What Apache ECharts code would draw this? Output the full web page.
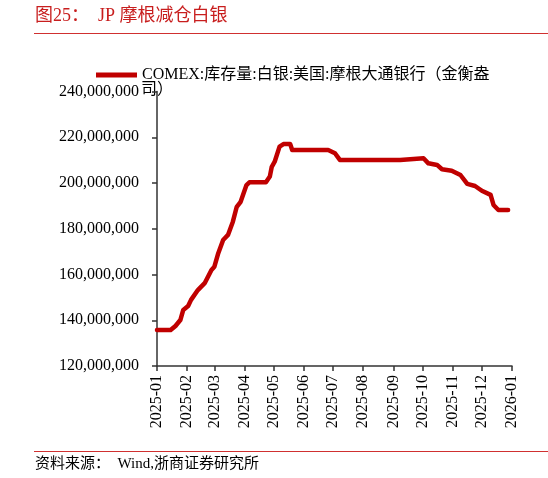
<!DOCTYPE html>
<html>
<head>
<meta charset="utf-8">
<script src="https://cdn.jsdelivr.net/npm/echarts@6/dist/echarts.min.js"></script>
<style>
html,body{margin:0;padding:0;background:#fff;}
#c{width:548px;height:478px;}
</style>
</head>
<body>
<div id="c"></div>
<script>
const titleText = '图25：  JP 摩根减仓白银';
const sourceText = '资料来源：  Wind,浙商证券研究所';
const seriesName = 'COMEX:库存量:白银:美国:摩根大通银行（金衡盎司）';
const legendLine1 = 'COMEX:库存量:白银:美国:摩根大通银行（金衡盎';
const legendLine2 = '司）';

const tickLabels = ['2025-01','2025-02','2025-03','2025-04','2025-05','2025-06','2025-07',
  '2025-08','2025-09','2025-10','2025-11','2025-12','2026-01'];

const dates = ['2025-01-01','2025-01-15','2025-01-20','2025-01-25','2025-01-28','2025-02-02','2025-02-05',
  '2025-02-12','2025-02-19','2025-02-26','2025-03-01','2025-03-05','2025-03-10','2025-03-15',
  '2025-03-20','2025-03-24','2025-03-28','2025-04-03','2025-04-06','2025-04-23','2025-04-27',
  '2025-04-29','2025-05-02','2025-05-07','2025-05-11','2025-05-18','2025-05-20','2025-06-26',
  '2025-07-03','2025-07-08','2025-09-08','2025-09-09','2025-10-02','2025-10-07','2025-10-16',
  '2025-10-21','2025-10-31','2025-11-09','2025-11-16','2025-11-24','2025-12-01','2025-12-10',
  '2025-12-13','2025-12-18','2025-12-28'];

const values = [135700000,135700000,137500000,140100000,144500000,146200000,148900000,
  153200000,156200000,162000000,163400000,169300000,175100000,177300000,
  183100000,189600000,191800000,199100000,200300000,200300000,202800000,
  207100000,209300000,215900000,217000000,217000000,214400000,214400000,
  213000000,210100000,210100000,210800000,210800000,208600000,207900000,
  206000000,205400000,203500000,199600000,198700000,196600000,194800000,
  190400000,188200000,188200000];

const yMin = 120000000, yMax = 240000000, yStep = 20000000;

function dayNumber(s){
  const p = s.split('-').map(Number);
  return Date.UTC(p[0], p[1]-1, p[2] || 1) / 86400000;
}
const tickValues = tickLabels.map(l => dayNumber(l));
const data = dates.map((d,i) => [dayNumber(d), values[i]]);

const FONT = "'Liberation Serif','Times New Roman','Noto Sans CJK SC',serif";
const RED = '#c00000';
const AX = '#333333';

const chart = echarts.init(document.getElementById('c'), null, {renderer:'canvas'});
chart.setOption({
  animation:false,
  backgroundColor:'#fff',
  textStyle:{fontFamily:FONT},
  graphic:[
    {type:'text', left:35, top:7, style:{text:titleText, fill:'#c81e1e', font:"18px 'Liberation Serif','Noto Sans CJK SC',serif"}},
    {type:'line', shape:{x1:34,y1:33.5,x2:548,y2:33.5}, style:{stroke:'#d03030', lineWidth:1}},
    {type:'text', left:141, top:82, style:{text:legendLine2, fill:'#000', font:"16px 'Liberation Serif','Noto Sans CJK SC',serif"}},
    {type:'line', shape:{x1:34,y1:451.5,x2:548,y2:451.5}, style:{stroke:'#d03030', lineWidth:1}},
    {type:'text', left:35, top:457, style:{text:sourceText, fill:'#000', font:"15px 'Liberation Serif','Noto Sans CJK SC',serif"}}
  ],
  legend:{
    left:91, top:62,
    itemWidth:41, itemHeight:5,
    icon:'rect',
    data:[{name:seriesName, itemStyle:{color:RED}}],
    formatter:function(){ return legendLine1; },
    textStyle:{fontSize:16, color:'#000', fontFamily:FONT}
  },
  grid:{left:157, right:36, top:91.5, bottom:112, containLabel:false},
  xAxis:{
    type:'value',
    min:tickValues[0], max:tickValues[tickValues.length-1],
    axisLine:{show:true, lineStyle:{color:AX, width:1.5}},
    axisTick:{show:true, inside:false, length:5, customValues:tickValues, lineStyle:{color:AX, width:1.5}},
    axisLabel:{
      customValues:tickValues,
      rotate:90, margin:9, fontSize:16, color:'#000', fontFamily:FONT,
      formatter:function(v){ const i = tickValues.indexOf(v); return i >= 0 ? tickLabels[i] : ''; }
    },
    splitLine:{show:false}
  },
  yAxis:{
    type:'value', min:yMin, max:yMax, interval:yStep,
    axisLine:{show:true, lineStyle:{color:AX, width:1.5}},
    axisTick:{show:true, inside:false, length:5, lineStyle:{color:AX, width:1.5}},
    axisLabel:{
      margin:18, fontSize:16, color:'#000', fontFamily:FONT,
      formatter:function(v){ return v.toLocaleString('en-US'); }
    },
    splitLine:{show:false}
  },
  series:[{
    name:seriesName, type:'line', data:data,
    showSymbol:false, symbol:'none',
    lineStyle:{color:RED, width:4.5, join:'round', cap:'round'},
    itemStyle:{color:RED}
  }]
});
</script>
</body>
</html>
